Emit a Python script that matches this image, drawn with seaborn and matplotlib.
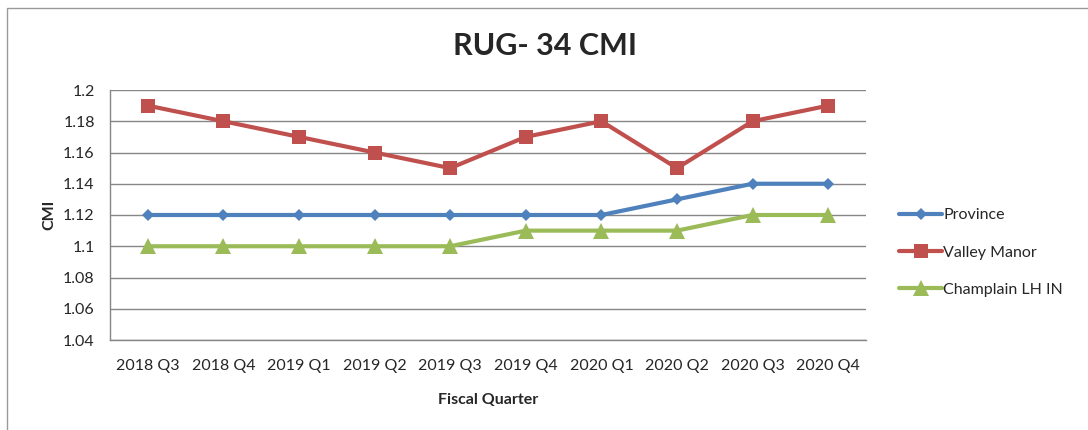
import pandas as pd
import seaborn as sns
import matplotlib.pyplot as plt
from matplotlib.patches import Rectangle
from matplotlib.ticker import FixedLocator, FuncFormatter

quarters = ['2018 Q3', '2018 Q4', '2019 Q1', '2019 Q2', '2019 Q3',
            '2019 Q4', '2020 Q1', '2020 Q2', '2020 Q3', '2020 Q4']
province = [1.12, 1.12, 1.12, 1.12, 1.12, 1.12, 1.12, 1.13, 1.14, 1.14]
valley_manor = [1.19, 1.18, 1.17, 1.16, 1.15, 1.17, 1.18, 1.15, 1.18, 1.19]
champlain = [1.10, 1.10, 1.10, 1.10, 1.10, 1.11, 1.11, 1.11, 1.12, 1.12]
series_names = ['Province', 'Valley Manor', 'Champlain LH IN']
y_ticks = [1.04, 1.06, 1.08, 1.1, 1.12, 1.14, 1.16, 1.18, 1.2]

df = pd.DataFrame({
    'Fiscal Quarter': quarters * 3,
    'CMI': province + valley_manor + champlain,
    'Series': [series_names[0]] * 10 + [series_names[1]] * 10 + [series_names[2]] * 10,
})
df['pos'] = list(range(len(quarters))) * 3

sns.set_style('white')
plt.rcParams['font.family'] = ['Lato', 'DejaVu Sans']

fig = plt.figure(figsize=(10.88, 4.3), dpi=100)
ax = fig.add_axes([110 / 1088, 90 / 430, 756 / 1088, 250 / 430])

palette = {'Province': '#4F81BD', 'Valley Manor': '#C0504D', 'Champlain LH IN': '#9BBB59'}
markers = {'Province': 'D', 'Valley Manor': 's', 'Champlain LH IN': '^'}
sizes = {'Province': 6.5, 'Valley Manor': 10, 'Champlain LH IN': 11}

for name in series_names:
    sub = df[df['Series'] == name]
    sns.lineplot(data=sub, x='pos', y='CMI', color=palette[name], marker=markers[name],
                 markersize=sizes[name], markeredgewidth=0, linewidth=3, label=name,
                 ax=ax, zorder=3)

ax.set_xlim(-0.5, len(quarters) - 0.5)
ax.set_ylim(1.04, 1.2)
ax.set_xticks(range(len(quarters)))
ax.set_xticklabels(quarters, fontsize=11.5)
ax.xaxis.set_minor_locator(FixedLocator([i - 0.5 for i in range(len(quarters) + 1)]))
ax.tick_params(axis='x', which='major', length=0, pad=14)
ax.tick_params(axis='x', which='minor', length=6, color='#868686', width=1)
ax.set_yticks(y_ticks)
ax.yaxis.set_major_formatter(FuncFormatter(lambda v, p: ('%.2f' % v).rstrip('0')))
ax.tick_params(axis='y', length=6, color='#868686', width=1, labelsize=11.5, pad=5)
ax.grid(axis='y', color='#868686', linewidth=1)
ax.set_axisbelow(True)
for s in ['top', 'right']:
    ax.spines[s].set_visible(False)
for s in ['left', 'bottom']:
    ax.spines[s].set_color('#868686')
    ax.spines[s].set_linewidth(1)

ax.set_xlabel('Fiscal Quarter', fontsize=11.5, fontweight='bold', labelpad=14)
ax.set_ylabel('CMI', fontsize=11.5, fontweight='bold', labelpad=5)
fig.suptitle('RUG- 34 CMI', fontsize=22, fontweight='bold', x=545 / 1088, y=1 - 46 / 430, va='center')

leg = ax.legend(loc='center left', bbox_to_anchor=(1.025, 0.35), frameon=False,
                fontsize=11.5, handlelength=2.7, handletextpad=0.05, labelspacing=1.45)

fig.patches.append(Rectangle((7 / 1088, -0.1), 1.2, 1 - 8 / 430 + 0.1, transform=fig.transFigure,
                             fill=False, edgecolor='#9a9a9a', linewidth=1))

fig.savefig('out.png', dpi=100)
